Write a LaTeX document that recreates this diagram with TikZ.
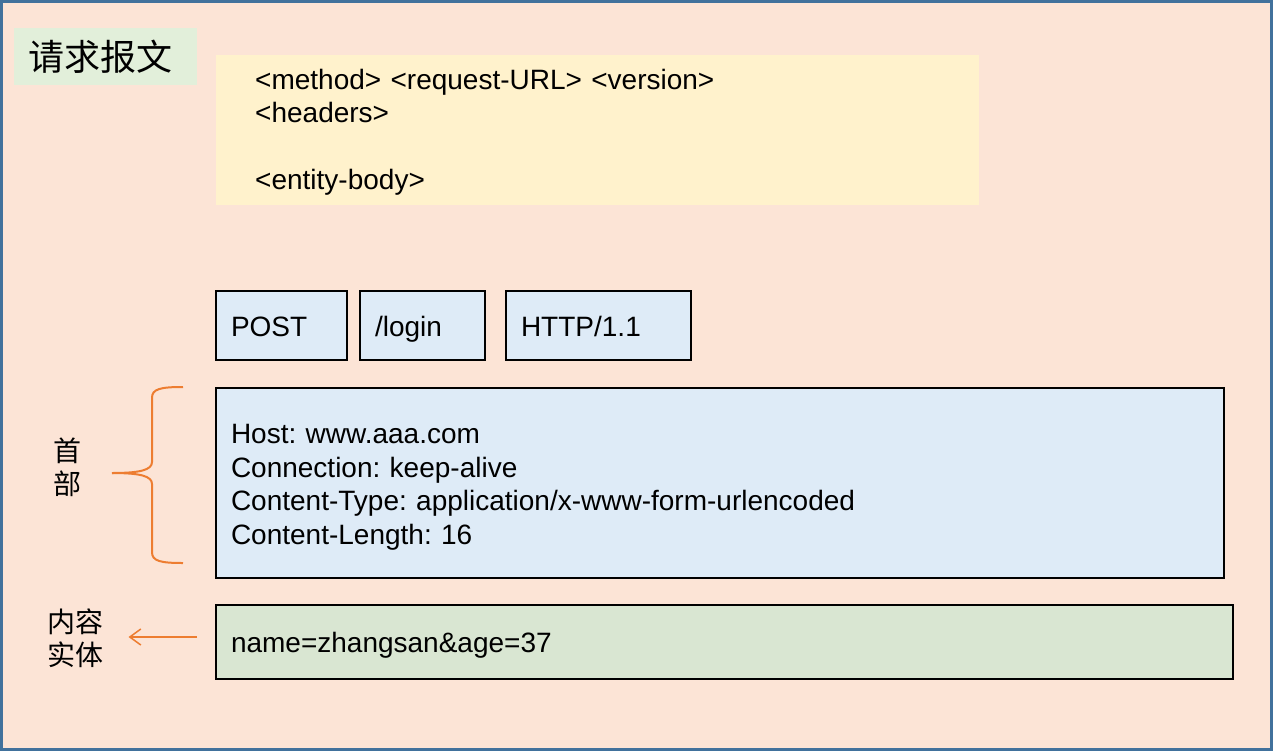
\documentclass[tikz,border=0pt]{standalone}
\usepackage{fontspec}
\setmainfont{Liberation Sans}
\newfontfamily\cjk{Noto Sans CJK SC}
\usetikzlibrary{arrows.meta}
\definecolor{peach}{HTML}{FCE4D6}
\definecolor{frameblue}{HTML}{41719C}
\definecolor{titlegreen}{HTML}{E2EFDA}
\definecolor{notepad}{HTML}{FFF2CC}
\definecolor{fieldblue}{HTML}{DEEBF7}
\definecolor{bodygreen}{HTML}{D9E6D2}
\definecolor{markorange}{HTML}{ED7D31}
\begin{document}
\begin{tikzpicture}[x=1pt,y=-1pt,
  field/.style={draw=black, line width=2pt, fill=fieldblue, anchor=north west, align=left, inner xsep=15pt, font=\frenchspacing\fontsize{28}{33.5}\selectfont},
  oneline/.style={field, text height=24pt, text depth=3pt},
  side/.style={align=center, font=\cjk\fontsize{28}{33}\selectfont},
  orangeline/.style={markorange, line width=2pt}]
\useasboundingbox (0,0) rectangle (1284,753);
\fill[peach] (1.5,1.5) rectangle (1271.5,749.5);
\draw[frameblue, line width=3pt] (1.5,1.5) rectangle (1271.5,749.5);
\node[fill=titlegreen, anchor=north west, text width=155pt, inner xsep=14pt, minimum height=57pt, align=left, font=\cjk\fontsize{36}{40}\selectfont] (title) at (14,28) {请求报文};
\node[fill=notepad, anchor=north west, text width=685pt, inner xsep=39pt, minimum height=150pt, align=left, font=\fontsize{28}{33.5}\selectfont] (syntax) at (216,55) {\rule{0pt}{24.4pt}<method> <request-URL> <version>\\<headers>\\[33.5pt]<entity-body>};
\node[oneline, text width=101pt, minimum height=69pt] (method) at (215,290) {POST};
\node[oneline, text width=95pt, minimum height=69pt] (url) at (359,290) {/login};
\node[oneline, text width=155pt, minimum height=69pt] (version) at (505,290) {HTTP/1.1};
\node[field, text width=978pt, minimum height=190pt] (headers) at (215,387) {\rule{0pt}{28pt}Host: www.aaa.com\\Connection: keep-alive\\Content-Type: application/x-www-form-urlencoded\\Content-Length: 16};
\node[oneline, fill=bodygreen, text width=987pt, minimum height=74pt] (body) at (215,604) {name=zhangsan\&age=37};
\node[side] (headlbl) at (67,467) {首\\部};
\node[side] (bodylbl) at (75,638) {内容\\实体};
\coordinate (bracetip) at (112,473);
\draw[orangeline] (183,387) .. controls (160,387) and (152,389) .. (152,398) -- (152,462) .. controls (152,470) and (140,473) .. (bracetip);
\draw[orangeline] (bracetip) .. controls (140,473) and (152,476) .. (152,484) -- (152,552) .. controls (152,561) and (160,563) .. (183,563);
\coordinate (arrowstart) at ([yshift=5pt]body.west);
\draw[orangeline, line width=1.5pt, -{Straight Barb[length=11pt,width=16pt]}, shorten <=18pt, shorten >=22pt] (arrowstart) -- (arrowstart -| bodylbl.east);
\end{tikzpicture}
\end{document}
